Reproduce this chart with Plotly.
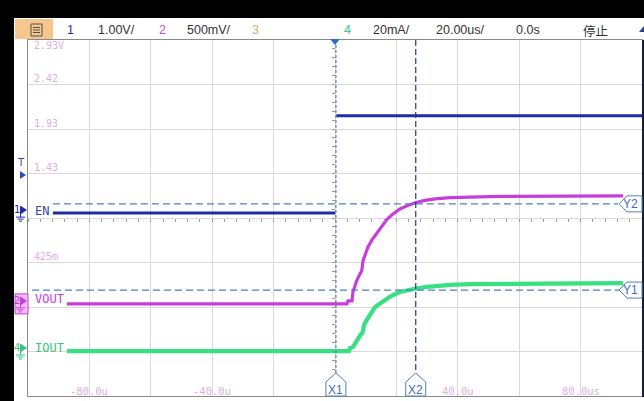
import plotly.graph_objects as go

# ---------------- data ----------------
time_range_us = [-100, 100]          # 20 us/div, 10 divisions
div_range = [-4, 4]                  # 8 vertical divisions

ch1_scale_v = 1.0                    # EN   : 1.00 V/div
ch2_scale_v = 0.5                    # VOUT : 500 mV/div
ch4_scale_ma = 20.0                  # IOUT : 20 mA/div
ch1_ground_div = 0.11
ch2_ground_div = -1.93
ch4_ground_div = -2.99

en_t_us = [-91.9, 0.1, None, 0.4, 100.0]
en_v = [0.0, 0.0, None, 2.19, 2.19]

vout_t_us = [-87.3, 3.91, 4.23, 5.54, 5.86, 6.51, 7.17, 8.14, 8.70, 9.12, 9.77, 10.75,
             12.05, 13.68, 15.31, 16.94, 18.89, 21.17, 23.78, 26.38, 29.32, 32.57,
             37.46, 43.97, 53.75, 93.81]
vout_v = [0.0, 0.0, 0.034, 0.034, 0.135, 0.213, 0.270, 0.337, 0.371, 0.483, 0.551, 0.640,
          0.719, 0.798, 0.876, 0.949, 1.011, 1.067, 1.107, 1.140, 1.163, 1.180,
          1.193, 1.202, 1.208, 1.213]

iout_t_us = [-87.3, 4.56, 4.89, 5.86, 6.84, 7.82, 8.47, 8.96, 9.45, 10.33, 11.40, 13.03,
             15.64, 18.24, 21.17, 23.78, 26.38, 29.32, 32.57, 37.46, 43.97, 60.26, 93.81]
iout_ma = [0.0, 0.0, 1.35, 1.80, 4.04, 6.74, 7.64, 8.09, 11.68, 13.93, 16.63, 19.77,
           22.24, 24.72, 26.52, 27.42, 28.09, 28.76, 29.30, 29.75, 30.11, 30.33, 30.56]

cursor_x_names = ["X1", "X2"]
cursor_x_us = [0.3, 26.3]
cursor_y2_v = 1.124      # Y2 on VOUT
cursor_y1_ma = 27.4      # Y1 on IOUT

grid_label_text = ["2.93V", "2.42", "1.93", "1.43", "425m"]
grid_label_div = [4, 3, 2, 1, -1]
time_label_text = ["-80.0u", "-40.0u", "40.0u", "80.0us"]
time_label_us = [-80, -40, 40, 80]

header_text = ["1", "1.00V/", "2", "500mV/", "3", "4", "20mA/", "20.00us/", "0.0s", "停止"]
channel_label_text = ["EN", "VOUT", "IOUT"]
channel_number_text = ["1", "2", "4"]

# ---------------- layout constants / styles ----------------
FW, FH = 644, 401
ML, MR, MT, MB = 28, 2, 40, 5
PW = FW - ML - MR
PH = FH - MT - MB
DIVPX = PH / 8.0

C_EN = "#1f2ca6"
C_VOUT = "#c63ddb"
C_IOUT = "#37e182"
C_CUR = "#4f80c2"
C_CUR_DARK = "#1f3b8c"
C_LBL = "#e0aee4"
C_HDR = "#333333"
header_x = [70, 116, 162, 209, 255, 347, 391, 460, 528, 595]
header_col = [C_EN, C_HDR, "#c24fd2", C_HDR, "#dcae68", "#42c486", C_HDR, C_HDR, C_HDR, C_HDR]


def fx(xp):
    return (xp - ML) / PW


def fy(yp):
    return (FH - MB - yp) / PH


def to_div(vals, scale, ground):
    return [None if v is None else ground + v / scale for v in vals]


fig = go.Figure()

# traces
fig.add_trace(go.Scatter(x=en_t_us, y=to_div(en_v, ch1_scale_v, ch1_ground_div),
                         mode="lines", line=dict(color=C_EN, width=3),
                         connectgaps=False, hoverinfo="skip", showlegend=False))
fig.add_trace(go.Scatter(x=vout_t_us, y=to_div(vout_v, ch2_scale_v, ch2_ground_div),
                         mode="lines", line=dict(color=C_VOUT, width=3.2),
                         hoverinfo="skip", showlegend=False))
fig.add_trace(go.Scatter(x=iout_t_us, y=to_div(iout_ma, ch4_scale_ma, ch4_ground_div),
                         mode="lines", line=dict(color=C_IOUT, width=4.2),
                         hoverinfo="skip", showlegend=False))

# cursors
y2_div = ch2_ground_div + cursor_y2_v / ch2_scale_v
y1_div = ch4_ground_div + cursor_y1_ma / ch4_scale_ma
tip_us = 100 - 24 * 200 / PW
fig.add_trace(go.Scatter(x=[-91.9, tip_us], y=[y2_div, y2_div], mode="lines",
                         line=dict(color=C_CUR, width=1.2, dash="7px,4px"),
                         hoverinfo="skip", showlegend=False))
fig.add_trace(go.Scatter(x=[-98.7, tip_us + 1.3], y=[y1_div, y1_div], mode="lines",
                         line=dict(color=C_CUR, width=1.2, dash="7px,4px"),
                         hoverinfo="skip", showlegend=False))
cur_bottom = -4 + 23 / DIVPX
for i, xc in enumerate(cursor_x_us):
    fig.add_trace(go.Scatter(x=[xc, xc], y=[4, cur_bottom], mode="lines",
                             line=dict(color=C_CUR if i == 0 else C_CUR_DARK, width=1.2,
                                       dash="3px,2px" if i == 0 else "6px,3px"),
                             hoverinfo="skip", showlegend=False))

# dummy trace for the centre tick axes
fig.add_trace(go.Scatter(x=[None], y=[None], xaxis="x2", yaxis="y2",
                         hoverinfo="skip", showlegend=False))

shapes = []
ann = []


def rect(x0, y0, x1, y1, fill, line=None, lw=0):
    shapes.append(dict(type="rect", xref="paper", yref="paper",
                       x0=fx(x0), x1=fx(x1), y0=fy(y1), y1=fy(y0),
                       fillcolor=fill, line=dict(color=line or fill, width=lw), layer="above"))


def seg(x0, y0, x1, y1, color, w=1):
    shapes.append(dict(type="line", xref="paper", yref="paper",
                       x0=fx(x0), x1=fx(x1), y0=fy(y0), y1=fy(y1),
                       line=dict(color=color, width=w), layer="above"))


def poly(pts, fill, line=None, lw=0):
    p = "M " + " L ".join(f"{fx(a):.5f},{fy(b):.5f}" for a, b in pts) + " Z"
    shapes.append(dict(type="path", xref="paper", yref="paper", path=p,
                       fillcolor=fill, line=dict(color=line or fill, width=lw), layer="above"))


def text(xp, yp, s, color, size=12, family="Liberation Sans", xanchor="center"):
    ann.append(dict(x=fx(xp), y=fy(yp), xref="paper", yref="paper", text=s, showarrow=False,
                    xanchor=xanchor, yanchor="middle", font=dict(color=color, size=size, family=family)))


# frame chrome
rect(-2, -2, 646, 18, "#000000")
rect(-2, -2, 14, 403, "#000000")
rect(642, 40, 646, 397, "#1a1a3a")
rect(15, 19, 53, 39, "#f6c68c")
rect(31, 24, 42, 36, "rgba(0,0,0,0)", "#505050", 1)
for yy in (27.5, 30, 32.5):
    seg(33, yy, 40, yy, "#505050", 1)
poly([(639, 32), (644, 32), (644, 26)], "#2a3a8a")

for s, xp, c in zip(header_text, header_x, header_col):
    text(xp, 30, s, c, 12.5, "Noto Sans CJK SC" if s == "停止" else "Liberation Sans")

# trigger level marker
text(21, 162, "T", "#2a4cc0", 10, "DejaVu Sans")
poly([(20, 171), (26, 175), (20, 179)], "#2a4cc0")

# channel markers
grounds = [ch1_ground_div, ch2_ground_div, ch4_ground_div]
mcols = [C_EN, C_VOUT, "#3cc47c"]
lcols = ["#2c46c0", C_VOUT, "#3cc47c"]
for k, (num, lab, gd, mc, lc) in enumerate(zip(channel_number_text, channel_label_text,
                                                grounds, mcols, lcols)):
    g = 218 - gd * DIVPX
    if k == 1:
        rect(15, g - 10, 28, g + 10, "#f4bcf7", "#c040d0", 1)
    text(17, g - 3.5, num, mc, 10, "DejaVu Sans")
    poly([(21, g - 7), (27, g - 3), (21, g + 1)], mc)
    seg(20.5, g - 7, 20.5, g + 4, mc, 1)
    seg(16, g + 4, 25, g + 4, mc, 1)
    seg(17.5, g + 6, 23.5, g + 6, mc, 1)
    seg(19, g + 8, 22, g + 8, mc, 1)
    ann.append(dict(x=fx(33), y=gd, xref="paper", yref="y", text=lab, showarrow=False,
                    xanchor="left", yanchor="middle", yshift=[2.5, 5, 3.5][k],
                    font=dict(color=lc, size=12, family="DejaVu Sans Mono")))

# grid labels (ch2 volts) and time labels
for s, d in zip(grid_label_text, grid_label_div):
    ann.append(dict(x=fx(32), y=d, xref="paper", yref="y", text=s, showarrow=False,
                    xanchor="left", yanchor="middle", yshift=-5 if d == 4 else 6,
                    font=dict(color=C_LBL, size=10, family="DejaVu Sans Mono")))
for s, t in zip(time_label_text, time_label_us):
    ann.append(dict(x=t, y=fy(391), xref="x", yref="paper", text=s, showarrow=False,
                    xanchor="center", yanchor="middle",
                    font=dict(color=C_LBL, size=10.5, family="DejaVu Sans Mono")))

# trigger position marker
shapes.append(dict(type="path", xref="x", yref="paper", xsizemode="pixel", ysizemode="pixel",
                   xanchor=0, yanchor=1, path="M -5,1 L 5,1 L 0,-5 Z",
                   fillcolor="#2f6fd0", line=dict(color="#2f6fd0", width=0), layer="above"))

# X cursor tags
for name, xc in zip(cursor_x_names, cursor_x_us):
    shapes.append(dict(type="path", xref="x", yref="paper", xsizemode="pixel", ysizemode="pixel",
                       xanchor=xc, yanchor=0, path="M -10,0 L -10,14 L 0,23 L 10,14 L 10,0 Z",
                       fillcolor="white", line=dict(color=C_CUR, width=1), layer="above"))
    ann.append(dict(x=xc, y=fy(390), xref="x", yref="paper", text=name, showarrow=False,
                    xanchor="center", yanchor="middle",
                    font=dict(color="#3c6cc0", size=12, family="Liberation Sans")))

# Y cursor tags
for name, yd in zip(["Y2", "Y1"], [y2_div, y1_div]):
    shapes.append(dict(type="path", xref="paper", yref="y", xsizemode="pixel", ysizemode="pixel",
                       xanchor=1, yanchor=yd, path="M 0,8 L -15,8 L -23,0 L -15,-8 L 0,-8 Z",
                       fillcolor="white", line=dict(color=C_CUR, width=1), layer="above"))
    ann.append(dict(x=1, y=yd, xref="paper", yref="y", text=name, showarrow=False,
                    xanchor="right", yanchor="middle", xshift=-2,
                    font=dict(color="#3c6cc0", size=12, family="Liberation Sans")))

axis_common = dict(showgrid=True, gridcolor="#d9d9d9", gridwidth=1, zeroline=False,
                   showticklabels=False, ticks="", showline=True, linecolor="#8a8a8a",
                   linewidth=1, mirror=True, fixedrange=True)

fig.update_layout(
    width=FW, height=FH,
    margin=dict(l=ML, r=MR, t=MT, b=MB, pad=0),
    paper_bgcolor="white", plot_bgcolor="white",
    showlegend=False,
    xaxis=dict(range=time_range_us, dtick=20, tick0=0, **axis_common),
    yaxis=dict(range=div_range, dtick=1, tick0=0, **axis_common),
    xaxis2=dict(range=time_range_us, overlaying="x", anchor="free", position=0.5,
                showgrid=False, zeroline=False, showline=False, showticklabels=False,
                ticks="outside", dtick=4, tick0=0, ticklen=3, tickcolor="#9a9a9a", fixedrange=True),
    yaxis2=dict(range=div_range, overlaying="y", anchor="free", position=0.5,
                showgrid=False, zeroline=False, showline=False, showticklabels=False,
                ticks="outside", dtick=0.2, tick0=0, ticklen=3, tickcolor="#9a9a9a", fixedrange=True),
    shapes=shapes,
    annotations=ann,
)

fig.write_html("out.html")
